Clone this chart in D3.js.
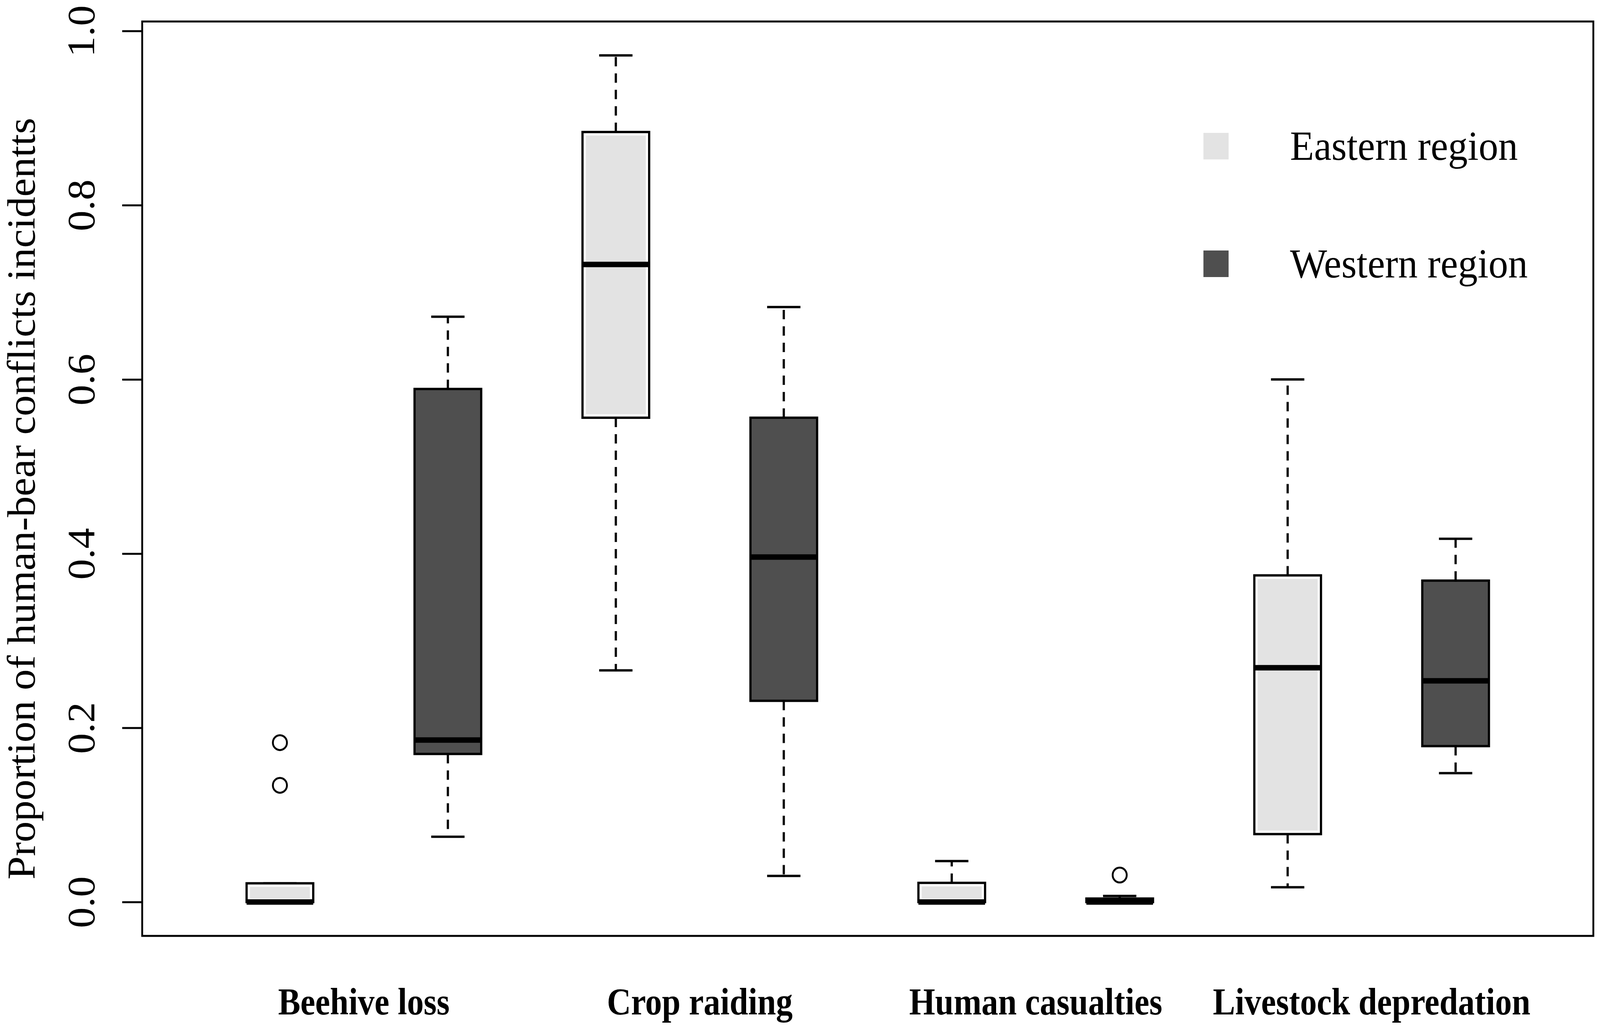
<!DOCTYPE html>
<html>
<head>
<meta charset="utf-8">
<script src="https://cdn.jsdelivr.net/npm/d3@7"></script>
<style>
  html, body { margin: 0; padding: 0; background: #ffffff; overflow: hidden; }
  svg { display: block; }
</style>
</head>
<body>
<script>
// ********************** DATA **************************************************************
var categories = ["Beehive loss", "Crop raiding", "Human casualties", "Livestock depredation"];
var regions = ["Eastern region", "Western region"];

// Eastern region boxes (whisker low, Q1, median, Q3, whisker high)
var eastLow    = [0,      0.266, 0,     0.017];
var eastQ1     = [0,      0.556, 0,     0.078];
var eastMedian = [0,      0.732, 0,     0.269];
var eastQ3     = [0.0215, 0.884, 0.022, 0.375];
var eastHigh   = [0.0215, 0.972, 0.047, 0.600];
var eastOutliers = [[0.183, 0.134], [], [], []];

// Western region boxes
var westLow    = [0.075, 0.030, 0,     0.148];
var westQ1     = [0.170, 0.231, 0,     0.179];
var westMedian = [0.186, 0.396, 0,     0.254];
var westQ3     = [0.589, 0.556, 0.004, 0.369];
var westHigh   = [0.672, 0.683, 0.007, 0.417];
var westOutliers = [[], [], [0.031], []];

var yTicks = [0, 0.2, 0.4, 0.6, 0.8, 1.0];

// ********************** LAYOUT **************************************************************
var width = 4321;
var height = 2623;
var plotLeft = 384, plotRight = 4303, plotTop = 55, plotBottom = 2395;
var boxWidth = 180;
var capWidth = 90;
var fills = ["#e3e3e3", "#4f4f4f"];

// viewBox stretched to the window so the chart fills the whole frame
var svg = d3.select("body")
  .append("svg")
  .attr("viewBox", "0 0 " + width + " " + height)
  .attr("preserveAspectRatio", "none")
  .style("width", "100vw")
  .style("height", "100vh")
  .style("background", "#ffffff");

// build the list of boxes, one per category and region
var boxes = [];
categories.forEach(function(c, i) {
  boxes.push({ pos: i * 2 + 1, fill: fills[0], gap: true,
    low: eastLow[i], q1: eastQ1[i], med: eastMedian[i], q3: eastQ3[i], high: eastHigh[i], out: eastOutliers[i] });
  boxes.push({ pos: i * 2 + 2, fill: fills[1], gap: false,
    low: westLow[i], q1: westQ1[i], med: westMedian[i], q3: westQ3[i], high: westHigh[i], out: westOutliers[i] });
});

// R style axis limits: data range padded by 4% each side
var allValues = [];
boxes.forEach(function(b) { allValues.push(b.low, b.high); b.out.forEach(function(o) { allValues.push(o); }); });
var yExt = d3.extent(allValues);
var yPad = (yExt[1] - yExt[0]) * 0.04;

var y = d3.scaleLinear()
  .domain([yExt[0] - yPad, yExt[1] + yPad])
  .range([plotBottom, plotTop]);

var xPad = (boxes.length) * 0.04;
var x = d3.scaleLinear()
  .domain([0.5 - xPad, boxes.length + 0.5 + xPad])
  .range([plotLeft, plotRight]);

// ********************** Y AXIS **************************************************************
var yAxis = svg.append("g")
  .attr("transform", "translate(" + plotLeft + ",0)")
  .call(d3.axisLeft(y).tickValues(yTicks).tickSize(54).tickFormat(d3.format(".1f")));

yAxis.select(".domain").remove();
yAxis.selectAll(".tick line")
  .attr("stroke", "#000")
  .attr("stroke-width", 5);
yAxis.selectAll(".tick text")
  .attr("x", 0)
  .attr("y", -130)
  .attr("dy", 0)
  .attr("transform", "rotate(-90)")
  .attr("text-anchor", "middle")
  .style("font-family", "'Liberation Serif', 'Times New Roman', serif")
  .style("font-size", "106px")
  .style("fill", "#000");

// Y axis title
svg.append("text")
  .attr("transform", "translate(94,1276) rotate(-90)")
  .attr("text-anchor", "middle")
  .text("Proportion of human-bear conflicts incidentts")
  .style("font-family", "'Liberation Serif', 'Times New Roman', serif")
  .style("font-size", "107px")
  .style("fill", "#000");

// ********************** BOXES **************************************************************
var g = svg.append("g");

boxes.forEach(function(b) {
  var cx = x(b.pos);

  // dashed whiskers
  g.append("line")
    .attr("x1", cx).attr("x2", cx)
    .attr("y1", y(b.q3)).attr("y2", y(b.high))
    .attr("stroke", "#000").attr("stroke-width", 6)
    .attr("stroke-dasharray", "24,18");
  g.append("line")
    .attr("x1", cx).attr("x2", cx)
    .attr("y1", y(b.q1)).attr("y2", y(b.low))
    .attr("stroke", "#000").attr("stroke-width", 6)
    .attr("stroke-dasharray", "24,18");

  // whisker caps
  [b.low, b.high].forEach(function(v) {
    g.append("line")
      .attr("x1", cx - capWidth / 2).attr("x2", cx + capWidth / 2)
      .attr("y1", y(v)).attr("y2", y(v))
      .attr("stroke", "#000").attr("stroke-width", 6);
  });

  // box
  g.append("rect")
    .attr("x", cx - boxWidth / 2)
    .attr("y", y(b.q3))
    .attr("width", boxWidth)
    .attr("height", Math.max(y(b.q1) - y(b.q3), 1))
    .attr("fill", b.gap ? "#ffffff" : b.fill)
    .attr("stroke", "#000")
    .attr("stroke-width", 6);

  // light boxes show a thin white rim inside the border
  if (b.gap && y(b.q1) - y(b.q3) > 18) {
    g.append("rect")
      .attr("x", cx - boxWidth / 2 + 9)
      .attr("y", y(b.q3) + 9)
      .attr("width", boxWidth - 18)
      .attr("height", y(b.q1) - y(b.q3) - 18)
      .attr("fill", b.fill);
  }

  // median
  g.append("line")
    .attr("x1", cx - boxWidth / 2).attr("x2", cx + boxWidth / 2)
    .attr("y1", y(b.med)).attr("y2", y(b.med))
    .attr("stroke", "#000").attr("stroke-width", 14);

  // outliers
  b.out.forEach(function(o) {
    g.append("circle")
      .attr("cx", cx)
      .attr("cy", y(o))
      .attr("r", 19)
      .attr("fill", "none")
      .attr("stroke", "#000")
      .attr("stroke-width", 5);
  });
});

// plot frame
svg.append("rect")
  .attr("x", plotLeft)
  .attr("y", plotTop)
  .attr("width", plotRight - plotLeft)
  .attr("height", plotBottom - plotTop)
  .attr("fill", "none")
  .attr("stroke", "#000")
  .attr("stroke-width", 5);

// ********************** X LABELS **************************************************************
categories.forEach(function(c, i) {
  var cx = (x(i * 2 + 1) + x(i * 2 + 2)) / 2;
  svg.append("text")
    .attr("transform", "translate(" + cx + ",2596) scale(0.92,1)")
    .attr("text-anchor", "middle")
    .text(c)
    .style("font-family", "'Liberation Serif', 'Times New Roman', serif")
    .style("font-weight", "bold")
    .style("font-size", "98px")
    .style("fill", "#000");
});

// ********************** LEGEND **************************************************************
var legendX = 3250;
var legendY = [374, 675];

regions.forEach(function(r, i) {
  svg.append("rect")
    .attr("x", legendX)
    .attr("y", legendY[i] - 34)
    .attr("width", 68)
    .attr("height", 68)
    .attr("fill", fills[i]);

  svg.append("text")
    .attr("x", legendX + 234)
    .attr("y", legendY[i] + 35)
    .text(r)
    .style("font-family", "'Liberation Serif', 'Times New Roman', serif")
    .style("font-size", "106px")
    .style("fill", "#000");
});
</script>
</body>
</html>
